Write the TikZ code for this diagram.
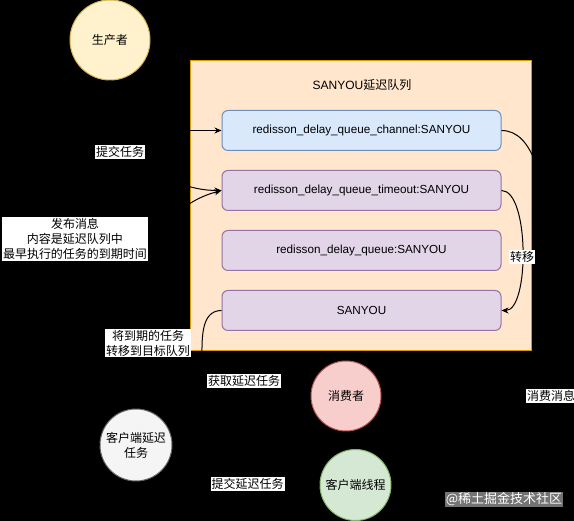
\documentclass[tikz,border=0pt]{standalone}
\usepackage{fontspec}
\setmainfont{Liberation Sans}
\newfontfamily\cjk{Noto Sans CJK SC}
\usetikzlibrary{arrows.meta}

\definecolor{blueFill}{HTML}{DAE8FC}
\definecolor{blueLine}{HTML}{6C8EBF}
\definecolor{purpleFill}{HTML}{E1D5E7}
\definecolor{purpleLine}{HTML}{9673A6}
\definecolor{orangeFill}{HTML}{FFE6CC}
\definecolor{orangeLine}{HTML}{D79B00}
\definecolor{yellowFill}{HTML}{FFF2CC}
\definecolor{yellowLine}{HTML}{D6B656}
\definecolor{redFill}{HTML}{F8CECC}
\definecolor{redLine}{HTML}{B85450}
\definecolor{greenFill}{HTML}{D5E8D4}
\definecolor{greenLine}{HTML}{82B366}
\definecolor{grayFill}{HTML}{F5F5F5}
\definecolor{grayLine}{HTML}{666666}

\newcommand{\twelve}{\fontsize{12}{15}\selectfont}

\tikzset{
  queuebox/.style={draw, rounded corners=6pt, minimum width=279pt, minimum height=40pt, line width=1pt, font=\fontsize{11.7}{14}\selectfont},
  rolenode/.style={circle, draw, line width=1pt, font=\twelve\cjk, align=center, inner sep=0pt},
  edgelbl/.style={fill=white, font=\twelve\cjk, inner sep=1pt, align=center},
  flow/.style={draw=black, line width=1pt, -{Stealth[length=7pt,width=6pt]}},
}

\begin{document}
\begin{tikzpicture}[x=1pt,y=1pt]
        % --- 背景 ---
        \fill[black] (0,0) rectangle (574,521);
        \useasboundingbox (0,0) rectangle (574,521);

        % --- 延迟队列の枠 ---
        \node[draw=orangeLine, fill=orangeFill, line width=1pt, minimum width=341pt, minimum height=290pt] (frame) at (360.5,315) {};
        \node[font=\twelve] (title) at (362,436) {SANYOU{\cjk 延迟队列}};

        % --- キュー ---
        \node[queuebox, draw=blueLine, fill=blueFill] (channel) at (361.5,390.5) {redisson\_delay\_queue\_channel:SANYOU};
        \node[queuebox, draw=purpleLine, fill=purpleFill] (timeout) at (361.5,330.5) {redisson\_delay\_queue\_timeout:SANYOU};
        \node[queuebox, draw=purpleLine, fill=purpleFill] (dqueue) at (361.5,270.5) {redisson\_delay\_queue:SANYOU};
        \node[queuebox, draw=purpleLine, fill=purpleFill] (target) at (361.5,210.5) {SANYOU};

        % --- 役割 (円) ---
        \node[rolenode, draw=yellowLine, fill=yellowFill, minimum size=80pt] (producer) at (110,481) {生产者};
        \node[rolenode, draw=redLine, fill=redFill, minimum size=70pt] (consumer) at (346,125) {消费者};
        \node[rolenode, draw=greenLine, fill=greenFill, minimum size=71pt] (thread) at (355.5,36) {客户端线程};
        \node[rolenode, draw=grayLine, fill=grayFill, minimum size=72pt] (task) at (136,76) {客户端延迟\\任务};

        % --- 経由点 ---
        \coordinate (pubturn) at (61,390.5);
        \coordinate (getbend) at (202,160);
        \coordinate (msgbend) at (549,125);

        % --- 矢印 ---
        \draw[flow] (producer.south) to[out=-90,in=180] (timeout.west);
        \draw[flow] (task.west) -| (pubturn) -- (channel.west);
        \draw[flow] (task.north) to[out=90,in=195] (timeout.west);
        \draw[flow] (channel.east) to[out=0,in=90,looseness=0.6] (msgbend) to[out=-90,in=0] (thread.east);
        \draw[flow] (thread.west) to[out=180,in=0] (task.east);
        \draw[flow] (target.west) to[out=180,in=90] (getbend) to[out=-90,in=180] (consumer.west);
        \draw[flow] (timeout.east) to[out=0,in=0,looseness=0.6] (target.east);

        % --- ラベル ---
        \node[edgelbl] (lblsubmit) at (120,369) {提交任务};
        \node[edgelbl] (lblpublish) at (75,282) {发布消息\\内容是延迟队列中\\最早执行的任务的到期时间};
        \node[edgelbl] (lblmove) at (148,178) {将到期的任务\\转移到目标队列};
        \node[edgelbl] (lblget) at (244,140) {获取延迟任务};
        \node[edgelbl] (lbldelay) at (247.5,37) {提交延迟任务};
        \node[edgelbl] (lblconsume) at (551,125) {消费消息};
        \node[edgelbl] (lbltransfer) at (522,264) {转移};
        \node[fill=black!55, text=white, font=\fontsize{13}{15}\selectfont\cjk, inner sep=1pt] (mark) at (504,21.5) {@稀土掘金技术社区};

\end{tikzpicture}
\end{document}
